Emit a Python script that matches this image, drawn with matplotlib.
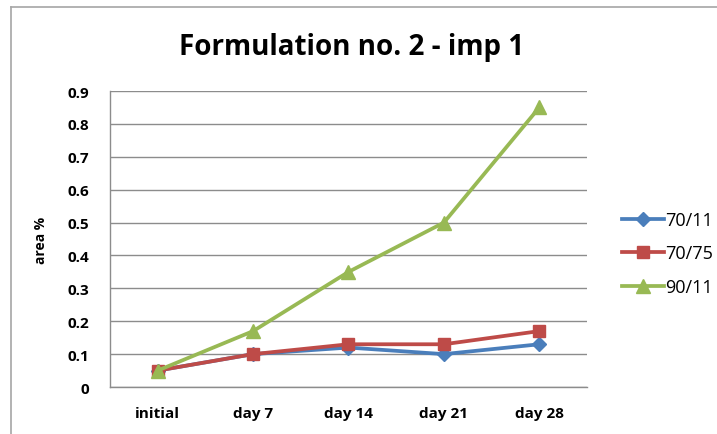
import matplotlib
matplotlib.use("Agg")
import matplotlib.pyplot as plt
from matplotlib.lines import Line2D

# dane
kategorie = ["initial", "day 7", "day 14", "day 21", "day 28"]
s_70_11 = [0.05, 0.10, 0.12, 0.10, 0.13]
s_70_75 = [0.05, 0.10, 0.13, 0.13, 0.17]
s_90_11 = [0.05, 0.17, 0.35, 0.50, 0.85]
nazwy = ["70/11", "70/75", "90/11"]
y_ticki = [0, 0.1, 0.2, 0.3, 0.4, 0.5, 0.6, 0.7, 0.8, 0.9]

kolory = ["#4A7EBB", "#BE4B48", "#98B954"]
markery = ["D", "s", "^"]
rozmiary = [7, 9, 10]

plt.rcParams["font.family"] = ["Open Sans", "DejaVu Sans"]

fig = plt.figure(figsize=(7.17, 4.35), dpi=100)
ax = fig.add_axes([0.1534, 0.108, 0.6653, 0.6805])

x = list(range(len(kategorie)))
for seria, kol, mk, ms in zip([s_70_11, s_70_75, s_90_11], kolory, markery, rozmiary):
    ax.plot(x, seria, color=kol, marker=mk, markersize=ms, linewidth=2.7, zorder=3)

ax.set_xlim(-0.5, len(kategorie) - 0.5)
ax.set_ylim(0, 0.9)
ax.set_yticks(y_ticki)
ax.set_yticklabels([("%g" % v) for v in y_ticki], fontweight="bold", fontsize=11)
ax.set_xticks(x)
ax.set_xticklabels(kategorie, fontweight="bold", fontsize=11)
ax.tick_params(length=0)
ax.tick_params(axis="y", pad=15)
ax.tick_params(axis="x", pad=14)
ax.grid(axis="y", color="#8C8C8C", linewidth=1)
ax.set_axisbelow(True)
for s in ["top", "right"]:
    ax.spines[s].set_visible(False)
for s in ["left", "bottom"]:
    ax.spines[s].set_color("#8C8C8C")
    ax.spines[s].set_linewidth(1)

ax.set_ylabel("area %", fontweight="bold", fontsize=10)
ax.yaxis.set_label_coords(-0.13, 0.5)

fig.text(0.49, 0.89, "Formulation no. 2 - imp 1", ha="center", va="center",
         fontsize=20, fontweight="bold")

uchwyty = [Line2D([0], [0], color=k, marker=m, markersize=ms, linewidth=2.7)
           for k, m, ms in zip(kolory, markery, rozmiary)]
leg = fig.legend(uchwyty, nazwy, loc="center left", bbox_to_anchor=(0.845, 0.415),
                 frameon=False, fontsize=13, handlelength=2.3, handletextpad=0.1,
                 labelspacing=0.85)

# ramka calego wykresu
fig.add_artist(Line2D([11 / 717, 11 / 717], [0, 1 - 8 / 435], color="#A6A6A6",
                      linewidth=1.2, transform=fig.transFigure))
fig.add_artist(Line2D([11 / 717, 1], [1 - 8 / 435, 1 - 8 / 435], color="#A6A6A6",
                      linewidth=1.2, transform=fig.transFigure))

fig.savefig("out.png", dpi=100)
